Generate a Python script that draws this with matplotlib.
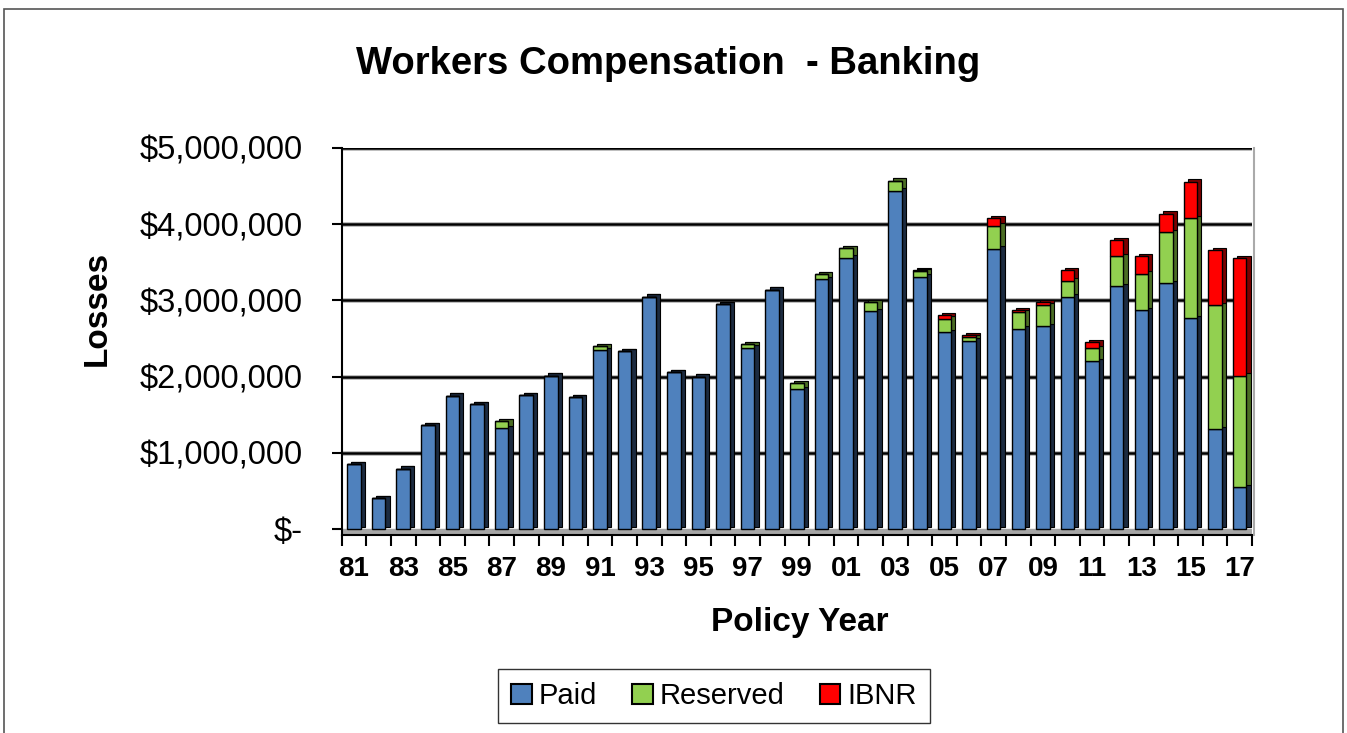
import matplotlib
matplotlib.use('Agg')
import matplotlib.pyplot as plt
import numpy as np
from matplotlib.patches import Patch, Rectangle
from matplotlib.ticker import FuncFormatter, FixedLocator

plt.rcParams['font.family'] = ['Liberation Sans', 'DejaVu Sans']

# policy years 1981 - 2017
years = ['81', '82', '83', '84', '85', '86', '87', '88', '89', '90',
         '91', '92', '93', '94', '95', '96', '97', '98', '99', '00',
         '01', '02', '03', '04', '05', '06', '07', '08', '09', '10',
         '11', '12', '13', '14', '15', '16', '17']

# losses in millions of dollars
paid = [0.85, 0.40, 0.79, 1.36, 1.75, 1.64, 1.32, 1.76, 2.01, 1.73,
        2.35, 2.33, 3.05, 2.06, 2.00, 2.95, 2.38, 3.14, 1.83, 3.28,
        3.56, 2.86, 4.44, 3.31, 2.58, 2.47, 3.68, 2.63, 2.66, 3.05,
        2.20, 3.19, 2.87, 3.23, 2.77, 1.31, 0.55]
reserved = [0, 0, 0, 0, 0, 0, 0.09, 0, 0, 0,
            0.05, 0, 0, 0, 0, 0, 0.05, 0, 0.08, 0.06,
            0.13, 0.12, 0.13, 0.07, 0.18, 0.05, 0.30, 0.22, 0.28, 0.21,
            0.17, 0.39, 0.48, 0.67, 1.31, 1.63, 1.46]
ibnr = [0, 0, 0, 0, 0, 0, 0, 0, 0, 0,
        0, 0, 0, 0, 0, 0, 0, 0, 0, 0,
        0, 0, 0, 0.02, 0.05, 0.02, 0.10, 0.02, 0.04, 0.14,
        0.08, 0.21, 0.23, 0.24, 0.48, 0.72, 1.54]

series = [('Paid', paid, '#4f81bd', '#1c2b40'),
          ('Reserved', reserved, '#92d050', '#4b6d24'),
          ('IBNR', ibnr, '#ff0000', '#7a0000')]

W, H = 1347, 733
fig = plt.figure(figsize=(W / 100, H / 100), dpi=100)
fig.patch.set_facecolor('white')

# frame round the whole picture
fig.add_artist(Rectangle((4 / W, -0.01), 1 - 8 / W, 1.0 - 2 / H, transform=fig.transFigure,
                         fill=False, edgecolor='#555555', linewidth=1.2))

ax = fig.add_axes([341.7 / W, 1 - 535 / H, (1252 - 341.7) / W, (535 - 148) / H])

x = np.arange(len(years))
width = 0.55
dx = 0.17      # fake 3d depth, sideways
dy = 0.03e6    # fake 3d depth, upwards

# floor and back wall
ax.axhspan(-0.08e6, 0, color='#a6a6a6', zorder=0)
for g in np.arange(1, 6) * 1e6:
    ax.axhline(g, color='#bbbbbb', linewidth=3.5, zorder=0.5)
    ax.axhline(g, color='black', linewidth=1.8, zorder=0.6)
ax.axvline(36.6, color='#aaaaaa', linewidth=1.5, zorder=0.5, clip_on=False)

bottom = np.zeros(len(years))
for name, vals, face, side in series:
    v = np.array(vals) * 1e6
    # dark side/top face behind, then the front face
    ax.bar(x + dx, v, bottom=bottom + dy, width=width, color=side,
           edgecolor='black', linewidth=0.8, zorder=2, clip_on=False)
    ax.bar(x, v, bottom=bottom, width=width, color=face,
           edgecolor='black', linewidth=1.0, zorder=3, label=name, clip_on=False)
    bottom = bottom + v

ax.set_xlim(-0.5, 36.5)
ax.set_ylim(-0.08e6, 5.0e6)

ax.set_yticks(np.arange(0, 6) * 1e6)
ax.yaxis.set_major_formatter(FuncFormatter(lambda v, p: '$-' if v == 0 else '${:,.0f}'.format(v)))
ax.tick_params(axis='y', length=7, width=1.5, pad=21, labelsize=23.5, direction='out')

ax.set_xticks(x[::2])
ax.set_xticklabels(years[::2], fontsize=20, fontweight='bold')
ax.xaxis.set_minor_locator(FixedLocator(np.arange(-0.5, 37, 1)))
ax.tick_params(axis='x', which='major', length=0, pad=15)
ax.tick_params(axis='x', which='minor', length=8, width=1.5, direction='out')

for s in ['top', 'right']:
    ax.spines[s].set_visible(False)
ax.spines['left'].set_linewidth(1.5)
ax.spines['bottom'].set_linewidth(1.5)
ax.patch.set_alpha(0)

fig.text(668 / W, 1 - 64 / H, 'Workers Compensation  - Banking', fontsize=27.5,
         fontweight='bold', ha='center', va='center')
fig.text(97 / W, 1 - 308 / H, 'Losses', fontsize=24, fontweight='bold',
         rotation=90, ha='center', va='center')
fig.text(800 / W, 1 - 622 / H, 'Policy Year', fontsize=24, fontweight='bold',
         ha='center', va='center')

handles = [Patch(facecolor=face, edgecolor='black', linewidth=1.5, label=name)
           for name, vals, face, side in series]
leg = fig.legend(handles=handles, loc='center', bbox_to_anchor=(714 / W, 1 - 696 / H),
                 ncol=3, fontsize=21, frameon=True, fancybox=False, edgecolor='black',
                 handlelength=0.7, handleheight=0.7, handletextpad=0.25, columnspacing=1.2,
                 borderpad=0.45)
leg.get_frame().set_linewidth(1.0)

fig.savefig('out.png', dpi=100)
